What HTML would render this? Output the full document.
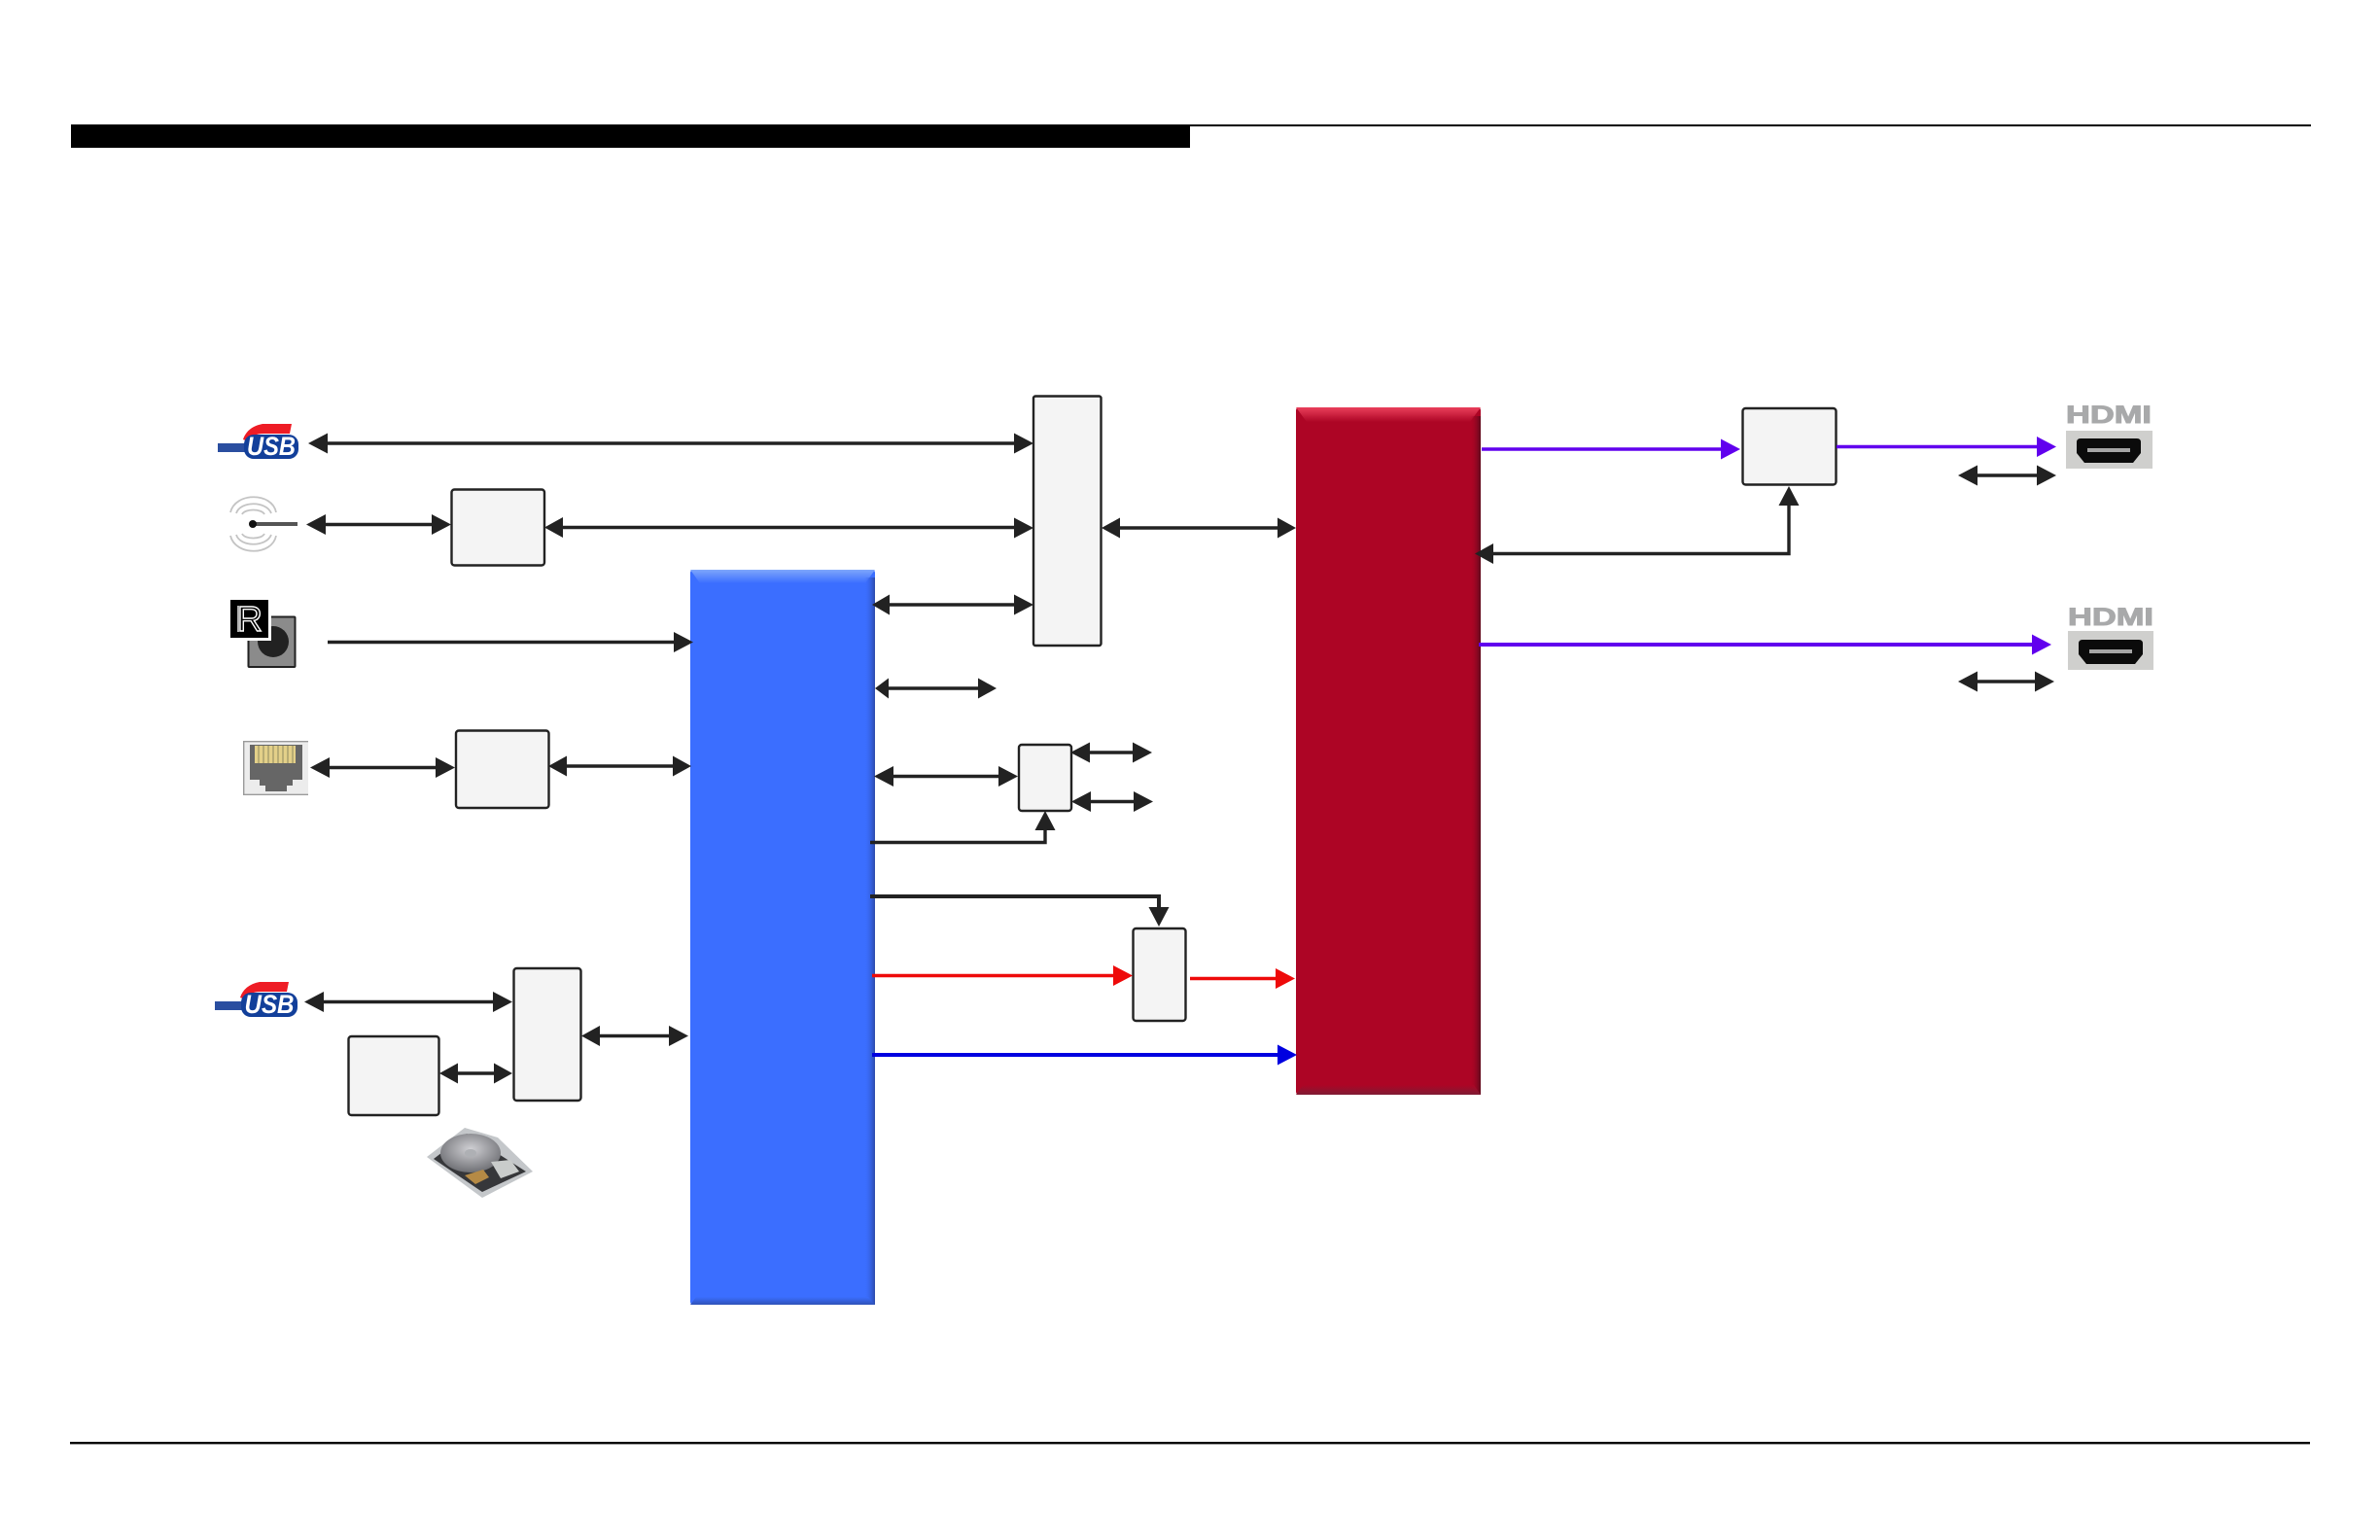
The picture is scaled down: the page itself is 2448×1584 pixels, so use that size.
<!DOCTYPE html>
<html><head><meta charset="utf-8">
<style>
html,body{margin:0;padding:0;background:#fff;width:2448px;height:1584px;overflow:hidden}
svg{display:block}
text{font-family:"Liberation Sans",sans-serif}
</style></head>
<body>
<svg xmlns="http://www.w3.org/2000/svg" width="2448" height="1584" viewBox="0 0 2448 1584">
<defs>
<radialGradient id="plat" cx="0.5" cy="0.4" r="0.7"><stop offset="0" stop-color="#d0d0d4"/><stop offset="1" stop-color="#5f6065"/></radialGradient>
<linearGradient id="bR" x1="0" x2="1" y1="0" y2="0"><stop offset="0" stop-color="#3b6eff" stop-opacity="0"/><stop offset="1" stop-color="#2c4aa8"/></linearGradient>
<linearGradient id="bT" x1="0" x2="0" y1="0" y2="1"><stop offset="0" stop-color="#7ea6fb"/><stop offset="1" stop-color="#3b6eff"/></linearGradient>
<linearGradient id="bB" x1="0" x2="0" y1="0" y2="1"><stop offset="0" stop-color="#3b6eff"/><stop offset="1" stop-color="#2f52b8"/></linearGradient>
<linearGradient id="rR" x1="0" x2="1" y1="0" y2="0"><stop offset="0" stop-color="#ad0525" stop-opacity="0"/><stop offset="1" stop-color="#5e0a1c"/></linearGradient>
<linearGradient id="rT" x1="0" x2="0" y1="0" y2="1"><stop offset="0" stop-color="#ea3f5b"/><stop offset="1" stop-color="#ad0525"/></linearGradient>
<linearGradient id="rB" x1="0" x2="0" y1="0" y2="1"><stop offset="0" stop-color="#ad0525"/><stop offset="1" stop-color="#7f1c34"/></linearGradient>
</defs>

<!-- header / footer rules -->
<rect x="73" y="128" width="1151" height="24" fill="#000"/>
<rect x="1224" y="128" width="1153" height="2" fill="#000"/>
<rect x="72" y="1483" width="2304" height="2.4" fill="#000"/>

<!-- blue block -->
<rect x="710" y="586" width="190" height="756" rx="3" fill="#3b6eff"/>
<polygon points="710,586 900,586 890,600 720,600" fill="url(#bT)"/>
<rect x="889" y="594" width="11" height="748" fill="url(#bR)"/>
<polygon points="710,1342 900,1342 893,1334 716,1334" fill="url(#bB)"/>

<!-- red block -->
<rect x="1333" y="419" width="190" height="707" rx="3" fill="#ad0525"/>
<polygon points="1333,419 1523,419 1512,434 1344,434" fill="url(#rT)"/>
<rect x="1512" y="428" width="11" height="698" fill="url(#rR)"/>
<polygon points="1333,1126 1523,1126 1516,1116 1340,1116" fill="url(#rB)"/>

<!-- light boxes -->
<g fill="#f4f4f4" stroke="#222" stroke-width="2.4">
<rect x="464.5" y="503.5" width="95.5" height="78" rx="3"/>
<rect x="469" y="751.5" width="95.5" height="79.5" rx="3"/>
<rect x="528.5" y="996" width="69" height="136" rx="3"/>
<rect x="358.5" y="1066" width="93" height="81" rx="3"/>
<rect x="1063" y="407.5" width="69.5" height="256.5" rx="2"/>
<rect x="1048" y="766" width="54" height="68" rx="3"/>
<rect x="1165.5" y="955" width="54" height="95" rx="3"/>
<rect x="1792.5" y="420" width="96" height="78.5" rx="3"/>
</g>

<!-- black connectors -->
<g stroke="#222" stroke-width="3.4" fill="none">
<path d="M330 456H1046"/>
<path d="M332 539.5H448"/>
<path d="M578 542.5H1046"/>
<path d="M337 660.5H694"/>
<path d="M336 789.5H452"/>
<path d="M582 788H694"/>
<path d="M330 1030.5H510"/>
<path d="M470 1104H510"/>
<path d="M615 1065.5H692"/>
<path d="M912 622H1046"/>
<path d="M1150 543H1316"/>
<path d="M912 708H1008"/>
<path d="M918 798.5H1030"/>
<path d="M1118 774H1168"/>
<path d="M1120 824.5H1170"/>
<path d="M895 866.5H1075V850"/>
<path d="M895 922H1192V934" stroke-width="4"/>
<path d="M1535 569.5H1840V516"/>
<path d="M2030 489H2098"/>
<path d="M2030 701H2096"/>
</g>
<g fill="#222">
<path d="M317 456l20-10.5v21zM1063 456l-20-10.5v21z"/>
<path d="M315 539.5l20-10.5v21zM464 539.5l-20-10.5v21z"/>
<path d="M560 542.5l19-10.5v21zM1063 543l-20-10.5v21z"/>
<path d="M713 660.5l-20-10.5v21z"/>
<path d="M319 789.5l20-10.5v21zM468 789.5l-20-10.5v21z"/>
<path d="M564 788l19-10.5v21zM711 788l-19-10.5v21z"/>
<path d="M313 1030.5l20-10.5v21zM527 1030.5l-20-10.5v21z"/>
<path d="M452 1104l19-10.5v21zM527 1104l-19-10.5v21z"/>
<path d="M598 1065.5l19-10.5v21zM708 1065.5l-20-10.5v21z"/>
<path d="M897 622l18-10.5v21zM1063 622l-20-10.5v21z"/>
<path d="M1133 543l19-10.5v21zM1333 543l-19-10.5v21z"/>
<path d="M900 708l14-10.5v21zM1025 708l-19-10.5v21z"/>
<path d="M899 798.5l20-10.5v21zM1047 798.5l-20-10.5v21z"/>
<path d="M1101 774l20-10.5v21zM1185 774l-20-10.5v21z"/>
<path d="M1102 824.5l20-10.5v21zM1186 824.5l-20-10.5v21z"/>
<path d="M1075 834l-10.5 20h21z"/>
<path d="M1192 953l-10.5-20h21z"/>
<path d="M1517 569.5l19-10.5v21z"/>
<path d="M1840 500l-10.5 20h21z"/>
<path d="M2014 489l20-10.5v21zM2115 489l-20-10.5v21z"/>
<path d="M2014 701l20-10.5v21zM2113 701l-20-10.5v21z"/>
</g>

<!-- coloured connectors -->
<g fill="none" stroke-width="3.6">
<path d="M897 1003.5H1150" stroke="#ee0a0a"/>
<path d="M1224 1006.5H1316" stroke="#ee0a0a"/>
<path d="M897 1085H1316" stroke="#0000e0" stroke-width="4"/>
<path d="M1524 462H1772" stroke="#6100ee"/>
<path d="M1889 459.5H2098" stroke="#6100ee"/>
<path d="M1521 663H2094" stroke="#6100ee" stroke-width="4"/>
</g>
<path d="M1165 1003.5l-20-10.5v21z" fill="#ee0a0a"/>
<path d="M1332 1006.5l-20-10.5v21z" fill="#ee0a0a"/>
<path d="M1334 1085l-20-10.5v21z" fill="#0000e0"/>
<path d="M1790 462l-20-10.5v21z" fill="#6100ee"/>
<path d="M2115 459.5l-20-10.5v21z" fill="#6100ee"/>
<path d="M2110 663l-20-10.5v21z" fill="#6100ee"/>

<!-- USB icon 1 -->
<g>
<path d="M250 452c3-9 10-14 20-16l30 0-2 10h-26c-8 0-14 2-17 8z" fill="#ee1c25"/>
<rect x="224" y="456" width="30" height="9" fill="#2a4ea0"/>
<rect x="251" y="447" width="56" height="25" rx="10" fill="#123f9a"/>
<text x="279" y="468" font-size="27" font-weight="700" font-style="italic" fill="#fff" text-anchor="middle" textLength="50" lengthAdjust="spacingAndGlyphs">USB</text>
</g>
<!-- USB icon 2 -->
<g>
<path d="M247 1026c3-9 10-14 20-16l30 0-2 10h-26c-8 0-14 2-17 8z" fill="#ee1c25"/>
<rect x="221" y="1030" width="30" height="9" fill="#2a4ea0"/>
<rect x="248" y="1021" width="58" height="25" rx="10" fill="#123f9a"/>
<text x="277" y="1042" font-size="27" font-weight="700" font-style="italic" fill="#fff" text-anchor="middle" textLength="51" lengthAdjust="spacingAndGlyphs">USB</text>
</g>

<!-- antenna icon -->
<g fill="none" stroke="#c4c4c4" stroke-width="1.8">
<path d="M237 527c5-21 43-21 47 0"/><path d="M243 528c4-13 31-13 36 0"/><path d="M249 529c3-6 20-6 23 0"/>
<path d="M237 551c5 21 43 21 47 0"/><path d="M243 550c4 13 31 13 36 0"/><path d="M249 549c3 6 20 6 23 0"/>
</g>
<path d="M260 539H306" stroke="#555" stroke-width="4"/>
<circle cx="260" cy="539" r="4" fill="#111"/>

<!-- IR icon -->
<rect x="255.5" y="634.5" width="48" height="51.5" rx="1" fill="#8b8b8b" stroke="#222" stroke-width="2"/>
<circle cx="281" cy="660" r="16" fill="#222"/>
<rect x="237" y="617" width="42" height="42" fill="#fff"/>
<rect x="237" y="617" width="39" height="39" fill="#000"/>
<text x="257" y="649" font-size="36" fill="#000" stroke="#fff" stroke-width="1.4" text-anchor="middle">R</text>
<path d="M245 623V650" stroke="#fff" stroke-width="1.4"/>

<!-- RJ45 icon -->
<rect x="250" y="762" width="67" height="56" fill="#ececec"/>
<path d="M317 762.7H250.7V817.3H317" fill="none" stroke="#9a9a9a" stroke-width="1.4"/>
<polygon points="257,766 311,766 311,802 301,802 301,808 295,808 295,814 273,814 273,808 267,808 267,802 257,802" fill="#666"/>
<rect x="262" y="767" width="42" height="18" fill="#e3d089"/>
<g stroke="#8d8760" stroke-width="1"><path d="M266 767v18M271 767v18M276 767v18M281 767v18M286 767v18M291 767v18M296 767v18M301 767v18"/></g>

<!-- HDD icon -->
<g>
<polygon points="439,1190 478,1160 512,1170 548,1205 496,1232" fill="#c4c7ca"/>
<polygon points="446,1192 480,1166 541,1205 496,1226" fill="#36373a"/>
<ellipse cx="484" cy="1186" rx="31" ry="20" fill="url(#plat)"/>
<ellipse cx="484" cy="1186" rx="6" ry="4" fill="#aeb0b4"/>
<polygon points="505,1195 525,1193 534,1205 515,1212" fill="#c9cccb"/>
<polygon points="478,1209 497,1203 503,1211 489,1218" fill="#b58a45"/>
</g>

<!-- HDMI icons -->
<g>
<text x="2125" y="435" font-size="25" font-weight="700" fill="#a8a9aa" stroke="#a8a9aa" stroke-width="1" textLength="88" lengthAdjust="spacingAndGlyphs">HDMI</text>
<rect x="2125" y="443" width="89" height="39" fill="#cfcfcd"/>
<path d="M2136 455q0-4 4-4h58q4 0 4 4v11l-8 10h-50l-8-10z" fill="#0b0b0b"/>
<rect x="2147" y="461" width="44" height="4" fill="#a5a5a5"/>
</g>
<g>
<text x="2127" y="643" font-size="25" font-weight="700" fill="#a8a9aa" stroke="#a8a9aa" stroke-width="1" textLength="88" lengthAdjust="spacingAndGlyphs">HDMI</text>
<rect x="2127" y="649" width="88" height="40" fill="#cfcfcd"/>
<path d="M2138 662q0-4 4-4h58q4 0 4 4v11l-8 10h-50l-8-10z" fill="#0b0b0b"/>
<rect x="2149" y="668" width="44" height="4" fill="#a5a5a5"/>
</g>
</svg>
</body></html>
